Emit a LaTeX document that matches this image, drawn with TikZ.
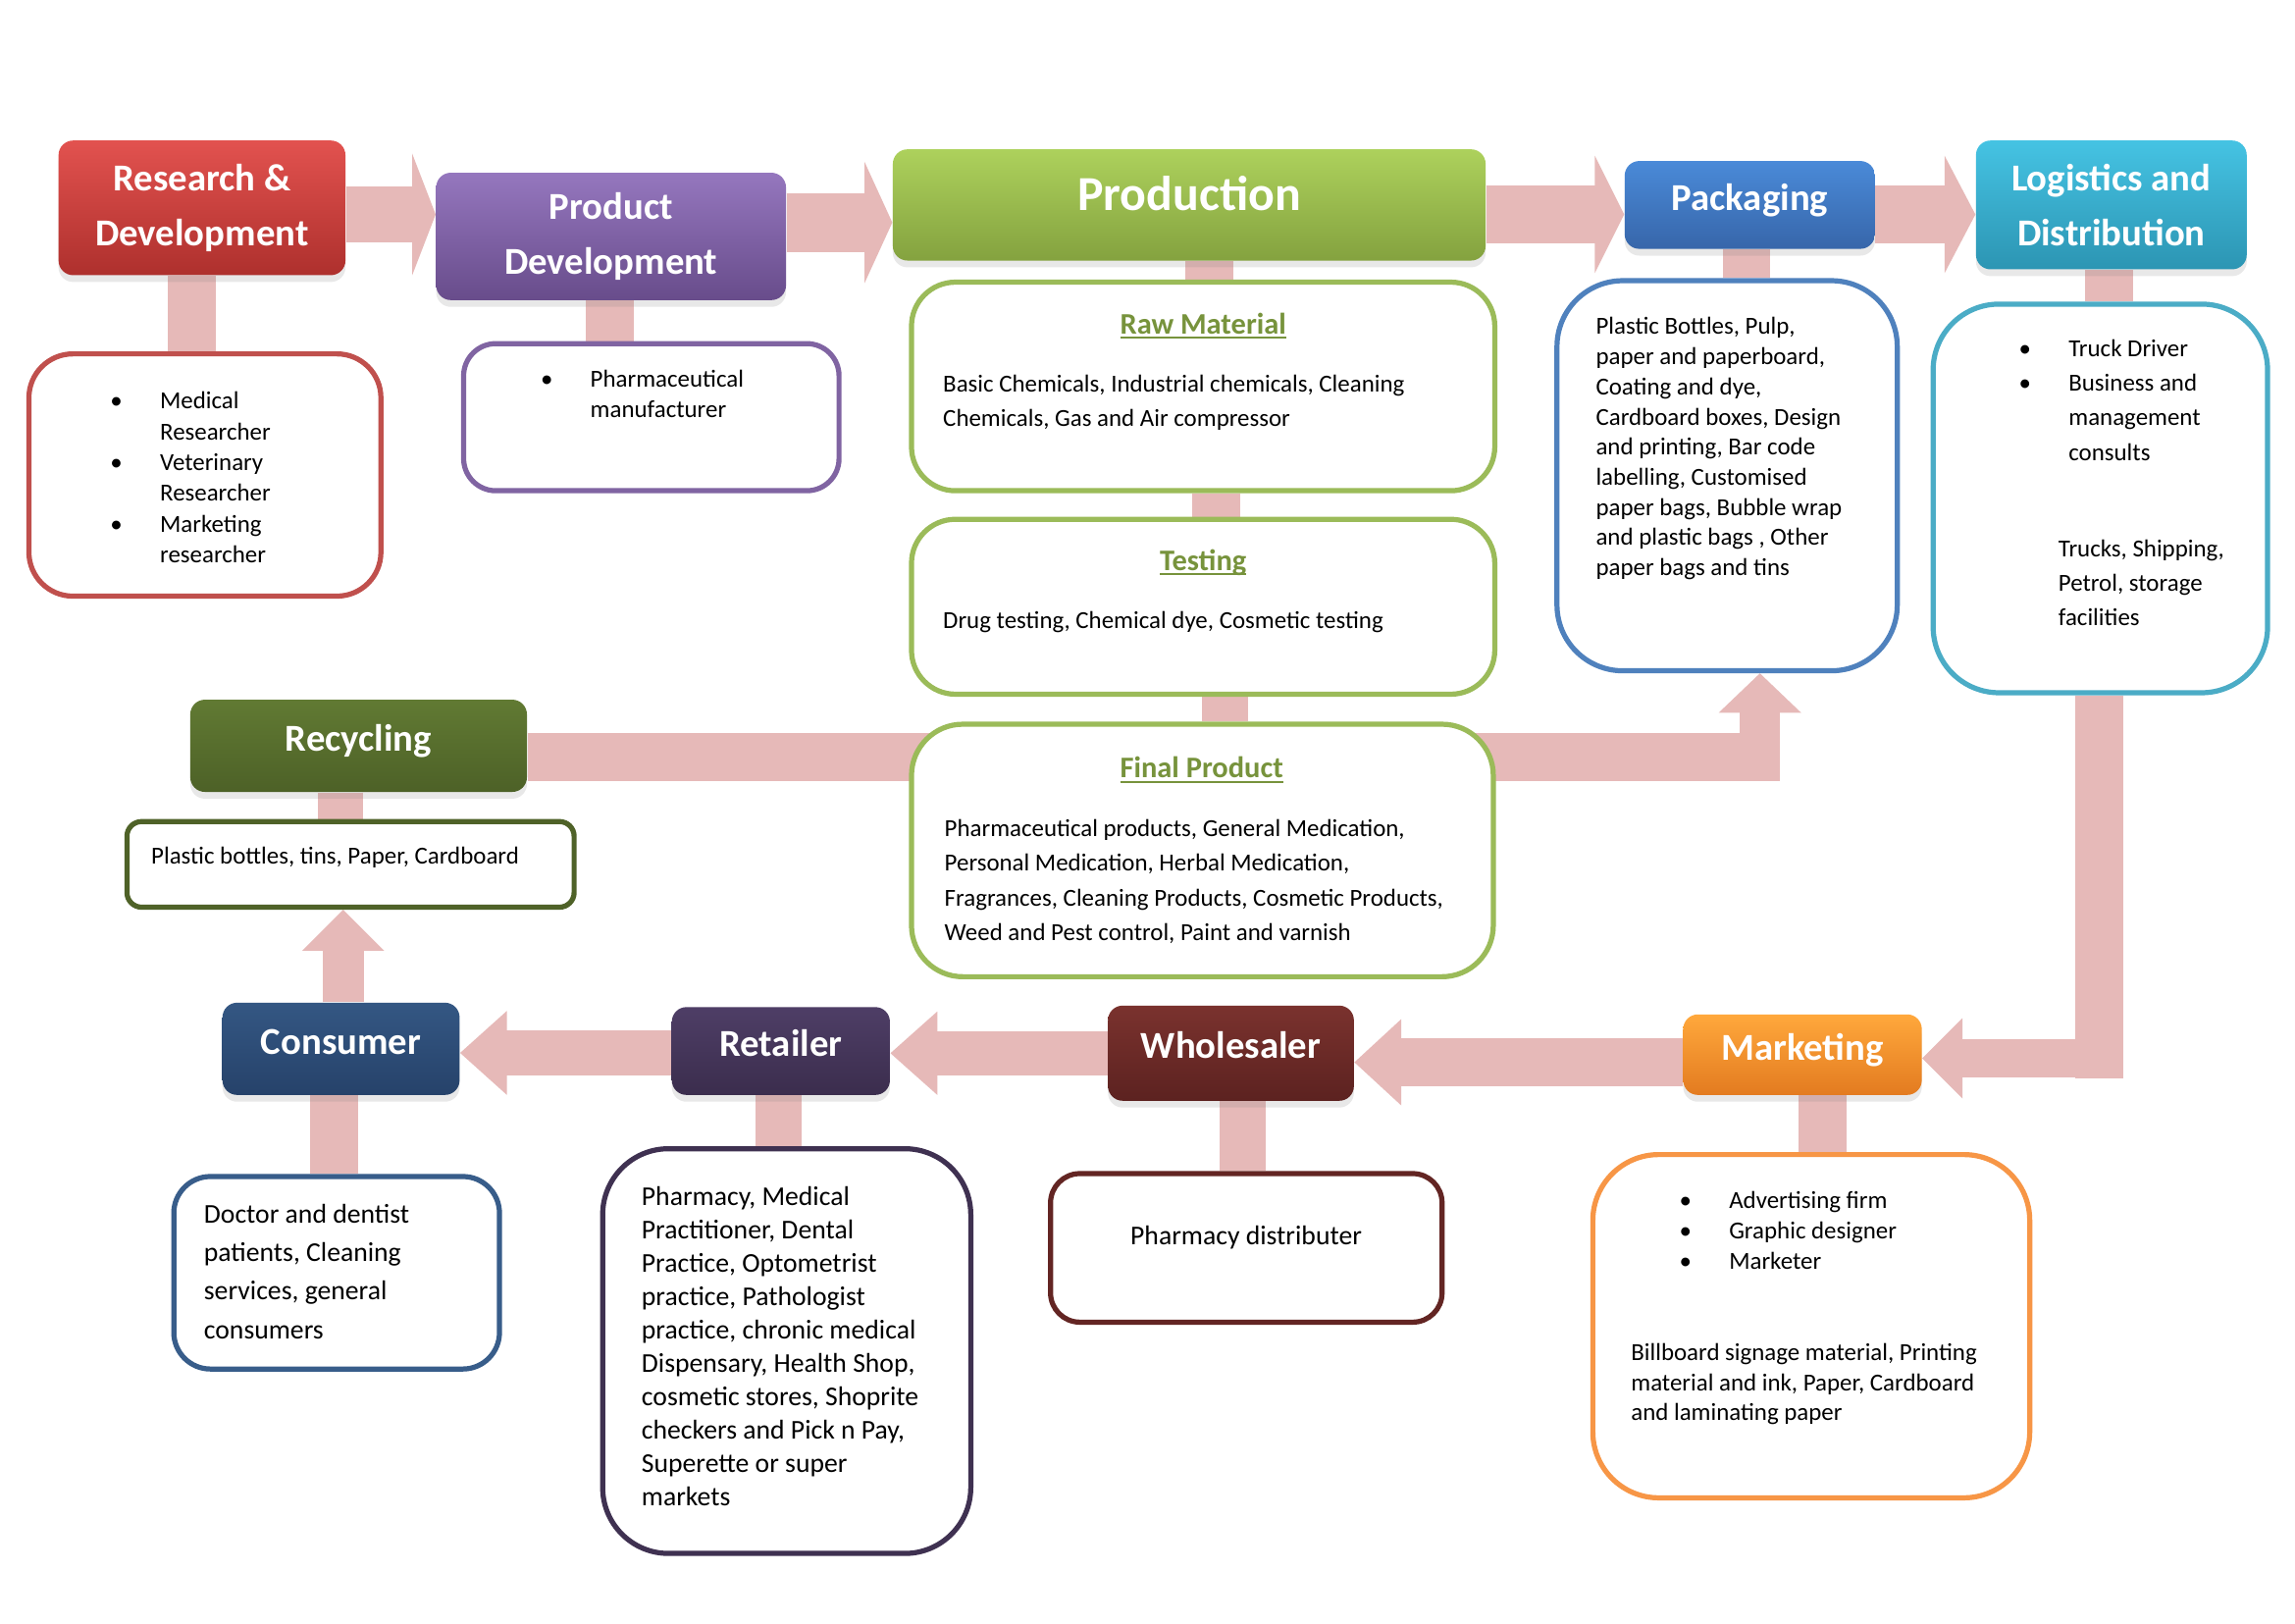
\documentclass[tikz,border=0pt]{standalone}
\usepackage{fontspec}
\setmainfont{Carlito}
\usetikzlibrary{calc,shadows}
\pgfdeclarelayer{background}
\pgfsetlayers{background,main}
\newdimen\pxu \pxu=0.18941mm
\definecolor{pk}{HTML}{E6B9B8}
\definecolor{rdT}{HTML}{E2524F}\definecolor{rdB}{HTML}{AE302D}
\definecolor{pdT}{HTML}{9577BE}\definecolor{pdB}{HTML}{684C8B}
\definecolor{prT}{HTML}{ADD15C}\definecolor{prB}{HTML}{84A23F}
\definecolor{paT}{HTML}{4A8AD8}\definecolor{paB}{HTML}{3766AA}
\definecolor{loT}{HTML}{45C3E3}\definecolor{loB}{HTML}{2C95B3}
\definecolor{reT}{HTML}{617A33}\definecolor{reB}{HTML}{4D6127}
\definecolor{coT}{HTML}{345783}\definecolor{coB}{HTML}{26426A}
\definecolor{rtT}{HTML}{4E3E66}\definecolor{rtB}{HTML}{3B2D4D}
\definecolor{whT}{HTML}{7A322E}\definecolor{whB}{HTML}{5C2220}
\definecolor{mkT}{HTML}{FFA83C}\definecolor{mkB}{HTML}{E37B20}
\definecolor{bRD}{HTML}{C0504D}
\definecolor{bPD}{HTML}{8064A2}
\definecolor{bGR}{HTML}{9BBB59}
\definecolor{bPA}{HTML}{4F81BD}
\definecolor{bLO}{HTML}{4BACC6}
\definecolor{bRE}{HTML}{4F6228}
\definecolor{bCO}{HTML}{385D8A}
\definecolor{bRT}{HTML}{3F3151}
\definecolor{bWH}{HTML}{632523}
\definecolor{bMK}{HTML}{F79646}
\definecolor{hd}{HTML}{77933C}
\newcommand\bul{\makebox[34\pxu][l]{\textbullet}}
\newcommand\nob{\hspace*{34\pxu}}
\newcommand\tb[1]{\begin{tabular}[t]{@{}l@{}}#1\end{tabular}}
\newcommand\ulx[1]{\leavevmode\setbox0\hbox{#1}\rlap{\rule[-1.9pt]{\wd0}{0.9pt}}\box0}
% block arrows: #1 start, #2 tip (named coordinate), #3 shaft width, #4 head width, #5 head length
\newcommand\arrR[5]{\draw[pk,line width=#3\pxu] #1 -- ($(#2)+(-#5+1,0)$);
  \fill[pk] (#2) -- ($(#2)+(-#5,-#4/2)$) -- ($(#2)+(-#5,#4/2)$) -- cycle;}
\newcommand\arrL[5]{\draw[pk,line width=#3\pxu] #1 -- ($(#2)+(#5-1,0)$);
  \fill[pk] (#2) -- ($(#2)+(#5,-#4/2)$) -- ($(#2)+(#5,#4/2)$) -- cycle;}
\newcommand\arrU[5]{\draw[pk,line width=#3\pxu] #1 -- ($(#2)+(0,#5-1)$);
  \fill[pk] (#2) -- ($(#2)+(-#4/2,#5)$) -- ($(#2)+(#4/2,#5)$) -- cycle;}
\newcommand\vbar[4]{\draw[pk,line width=#4\pxu] (#2.south -| #1,0) -- (#3.north -| #1,0);}
\tikzset{
  title/.style={rounded corners=10\pxu, text=white, inner sep=0pt,
    font=\fontsize{14}{20}\selectfont\bfseries,
    drop shadow={shadow xshift=0pt, shadow yshift=-2.5pt, opacity=0.18}},
  two/.style={align=center},
  one/.style={text height=10pt, text depth=6pt},
  detail/.style={draw, line width=3.5\pxu, fill=white, inner sep=0pt},
  body/.style={inner sep=0pt, anchor=base west},
  hdr/.style={inner sep=0pt, anchor=base, text=hd, font=\fontsize{11}{13}\selectfont\bfseries},
}
\begin{document}
\begin{tikzpicture}[x=0.18941mm, y=-0.18941mm]
\useasboundingbox (0,0) rectangle (1568,1109);
% ---------- title boxes ----------
\node[title, two, top color=rdT, bottom color=rdB, minimum width=196\pxu, minimum height=92\pxu] (rd) at (138,142) {\rule{0pt}{8pt}Research \&\\Development};
\node[title, two, top color=pdT, bottom color=pdB, minimum width=239\pxu, minimum height=87\pxu] (pd) at (417.5,161.5) {\rule{0pt}{8pt}Product\\Development};
\node[title, font=\fontsize{18}{22}\selectfont\bfseries, text height=12pt, text depth=8pt, top color=prT, bottom color=prB, minimum width=405\pxu, minimum height=76\pxu] (prod) at (812.5,140) {Production};
\node[title, one, top color=paT, bottom color=paB, minimum width=171\pxu, minimum height=60\pxu] (pack) at (1195.5,140) {Packaging};
\node[title, two, top color=loT, bottom color=loB, minimum width=185\pxu, minimum height=88\pxu] (log) at (1442.5,140) {\rule{0pt}{8pt}Logistics and\\Distribution};
\node[title, one, top color=reT, bottom color=reB, minimum width=230\pxu, minimum height=63\pxu] (recyc) at (245,509.5) {Recycling};
\node[title, one, top color=coT, bottom color=coB, minimum width=162\pxu, minimum height=63\pxu] (cons) at (233,716.5) {Consumer};
\node[title, one, top color=rtT, bottom color=rtB, minimum width=149\pxu, minimum height=60\pxu] (ret) at (533.5,718) {Retailer};
\node[title, one, top color=whT, bottom color=whB, minimum width=168\pxu, minimum height=65\pxu] (whole) at (841,719.5) {Wholesaler};
\node[title, one, top color=mkT, bottom color=mkB, minimum width=163\pxu, minimum height=55\pxu] (mkt) at (1231.5,720.5) {Marketing};
% ---------- detail boxes ----------
\node[detail, draw=bRD, rounded corners=30\pxu, minimum width=240.5\pxu, minimum height=165.5\pxu] (rdd) at (140,324.5) {};
\node[detail, draw=bPD, rounded corners=22\pxu, minimum width=256.5\pxu, minimum height=100.5\pxu] (pdd) at (445,285) {};
\node[detail, draw=bGR, rounded corners=30\pxu, minimum width=398.5\pxu, minimum height=142.5\pxu] (raw) at (822,264) {};
\node[detail, draw=bGR, rounded corners=30\pxu, minimum width=398.5\pxu, minimum height=119.5\pxu] (test) at (822,414.5) {};
\node[detail, draw=bGR, rounded corners=35\pxu, minimum width=397.5\pxu, minimum height=172.5\pxu] (fin) at (821.5,581) {};
\node[detail, draw=bPA, rounded corners=45\pxu, minimum width=232.5\pxu, minimum height=266.5\pxu] (pkd) at (1180,325) {};
\node[detail, draw=bLO, rounded corners=45\pxu, minimum width=228.5\pxu, minimum height=265.5\pxu] (lgd) at (1435,340.5) {};
\node[detail, draw=bRE, rounded corners=10\pxu, minimum width=305.5\pxu, minimum height=58.5\pxu] (rcd) at (239.5,590.5) {};
\node[detail, draw=bCO, rounded corners=25\pxu, minimum width=222.5\pxu, minimum height=131.5\pxu] (csd) at (230,869.5) {};
\node[detail, draw=bRT, rounded corners=45\pxu, minimum width=251.5\pxu, minimum height=276.5\pxu] (rtd) at (537.5,923) {};
\node[detail, draw=bWH, rounded corners=20\pxu, minimum width=267.5\pxu, minimum height=101.5\pxu] (whd) at (851.5,852.5) {};
\node[detail, draw=bMK, rounded corners=45\pxu, minimum width=298.5\pxu, minimum height=234.5\pxu] (mkd) at (1237.5,906) {};
% ---------- texts ----------
\node[body, font=\fontsize{9}{11.3}\selectfont] (rdt) at (75,279.5) {\tb{\bul Medical\\ \nob Researcher\\ \bul Veterinary\\ \nob Researcher\\ \bul Marketing\\ \nob researcher}};
\node[body, font=\fontsize{9}{11.3}\selectfont] (pdt) at (369,264.5) {\tb{\bul Pharmaceutical\\ \nob manufacturer}};
\node[hdr] (rawh) at (822,228) {\ulx{Raw Material}};
\node[body, font=\fontsize{9}{12.9}\selectfont] (rawt) at (644,267.5) {\tb{Basic Chemicals, Industrial chemicals, Cleaning\\Chemicals, Gas and Air compressor}};
\node[hdr] (testh) at (822,389.5) {\ulx{Testing}};
\node[body, font=\fontsize{9}{12.9}\selectfont] (testt) at (644,429.5) {\tb{Drug testing, Chemical dye, Cosmetic testing}};
\node[hdr] (finh) at (821,531.5) {\ulx{Final Product}};
\node[body, font=\fontsize{9}{12.75}\selectfont] (fint) at (645,571.5) {\tb{Pharmaceutical products, General Medication,\\Personal Medication, Herbal Medication,\\Fragrances, Cleaning Products, Cosmetic Products,\\Weed and Pest control, Paint and varnish}};
\node[body, font=\fontsize{9}{11.1}\selectfont] (pkt) at (1090,228.5) {\tb{Plastic Bottles, Pulp,\\paper and paperboard,\\Coating and dye,\\Cardboard boxes, Design\\and printing, Bar code\\labelling, Customised\\paper bags, Bubble wrap\\and plastic bags , Other\\paper bags and tins}};
\node[body, font=\fontsize{9}{12.75}\selectfont] (lgt) at (1379,243.5) {\tb{\bul Truck Driver\\ \bul Business and\\ \nob management\\ \nob consults}};
\node[body, font=\fontsize{9}{12.7}\selectfont] (lgt2) at (1406,380.5) {\tb{Trucks, Shipping,\\Petrol, storage\\facilities}};
\node[body, font=\fontsize{9}{11}\selectfont] (rct) at (103,590.5) {Plastic bottles, tins, Paper, Cardboard};
\node[body, font=\fontsize{10}{14.2}\selectfont] (cst) at (139,835.5) {\tb{Doctor and dentist\\patients, Cleaning\\services, general\\consumers}};
\node[body, font=\fontsize{10}{12.3}\selectfont] (rtt) at (438,823.5) {\tb{Pharmacy, Medical\\Practitioner, Dental\\Practice, Optometrist\\practice, Pathologist\\practice, chronic medical\\Dispensary, Health Shop,\\cosmetic stores, Shoprite\\checkers and Pick n Pay,\\Superette or super\\markets}};
\node[body, font=\fontsize{10}{12}\selectfont] (wht) at (772,850.5) {Pharmacy distributer};
\node[body, font=\fontsize{9}{11.3}\selectfont] (mkt1) at (1147,825.5) {\tb{\bul Advertising firm\\ \bul Graphic designer\\ \bul Marketer}};
\node[body, font=\fontsize{9}{11}\selectfont] (mkt2) at (1114,929.5) {\tb{Billboard signage material, Printing\\material and ink, Paper, Cardboard\\and laminating paper}};
% ---------- connectors ----------
\begin{pgfonlayer}{background}
\fill[white] (0,0) rectangle (1568,1109);
\coordinate (a1) at (pd.west |- 0,146.5);
\coordinate (a2) at (prod.west |- 0,152);
\coordinate (a3) at (pack.west |- 0,146.5);
\coordinate (a4) at (log.west |- 0,146.5);
\arrR{(rd.east |- 0,146.5)}{a1}{38}{83}{16}
\arrR{(pd.east |- 0,152)}{a2}{40}{83}{19}
\arrR{(prod.east |- 0,146.5)}{a3}{39}{80}{20}
\arrR{(pack.east |- 0,146.5)}{a4}{39}{80}{21}
\vbar{131}{rd}{rdd}{33}
\vbar{416.5}{pd}{pdd}{32.7}
\vbar{826}{prod}{raw}{33}
\vbar{831}{raw}{test}{33}
\vbar{837}{test}{fin}{32}
\vbar{1193}{pack}{pkd}{32}
\vbar{1441}{log}{lgd}{33}
\vbar{232.5}{recyc}{rcd}{31}
\vbar{228.5}{cons}{csd}{33}
\vbar{532}{ret}{rtd}{32}
\vbar{849}{whole}{whd}{32}
\vbar{1245}{mkt}{mkd}{33}
% recycling / final product to packaging
\coordinate (b1) at (1216,517);
\draw[pk,line width=32.6\pxu] (recyc.east |- 0,517) -- (b1);
\coordinate (a5) at (pkd.south -| 1202.4,0);
\arrU{(1202.4,533.4)}{a5}{27.3}{56.5}{27}
% consumer to recycling
\coordinate (a6) at (rcd.south -| 234.5,0);
\arrU{(cons.north -| 234.5,0)}{a6}{28}{56}{28}
% bottom row
\coordinate (a7) at (cons.east |- 0,719.3);
\arrL{(ret.west |- 0,719.3)}{a7}{31}{57.5}{32}
\coordinate (a8) at (ret.east |- 0,719.5);
\arrL{(whole.west |- 0,719.5)}{a8}{30}{57}{32}
\coordinate (a9) at (whole.east |- 0,725.7);
\arrL{(mkt.west |- 0,725.7)}{a9}{32.4}{59}{32}
% logistics to marketing
\coordinate (b2) at (1434,736.5);
\draw[pk,line width=33\pxu] (lgd.south -| 1434,0) -- (b2);
\coordinate (a10) at (mkt.east |- 0,723);
\arrL{(1450.5,723)}{a10}{26.5}{55}{27.5}
\end{pgfonlayer}
\end{tikzpicture}
\end{document}
